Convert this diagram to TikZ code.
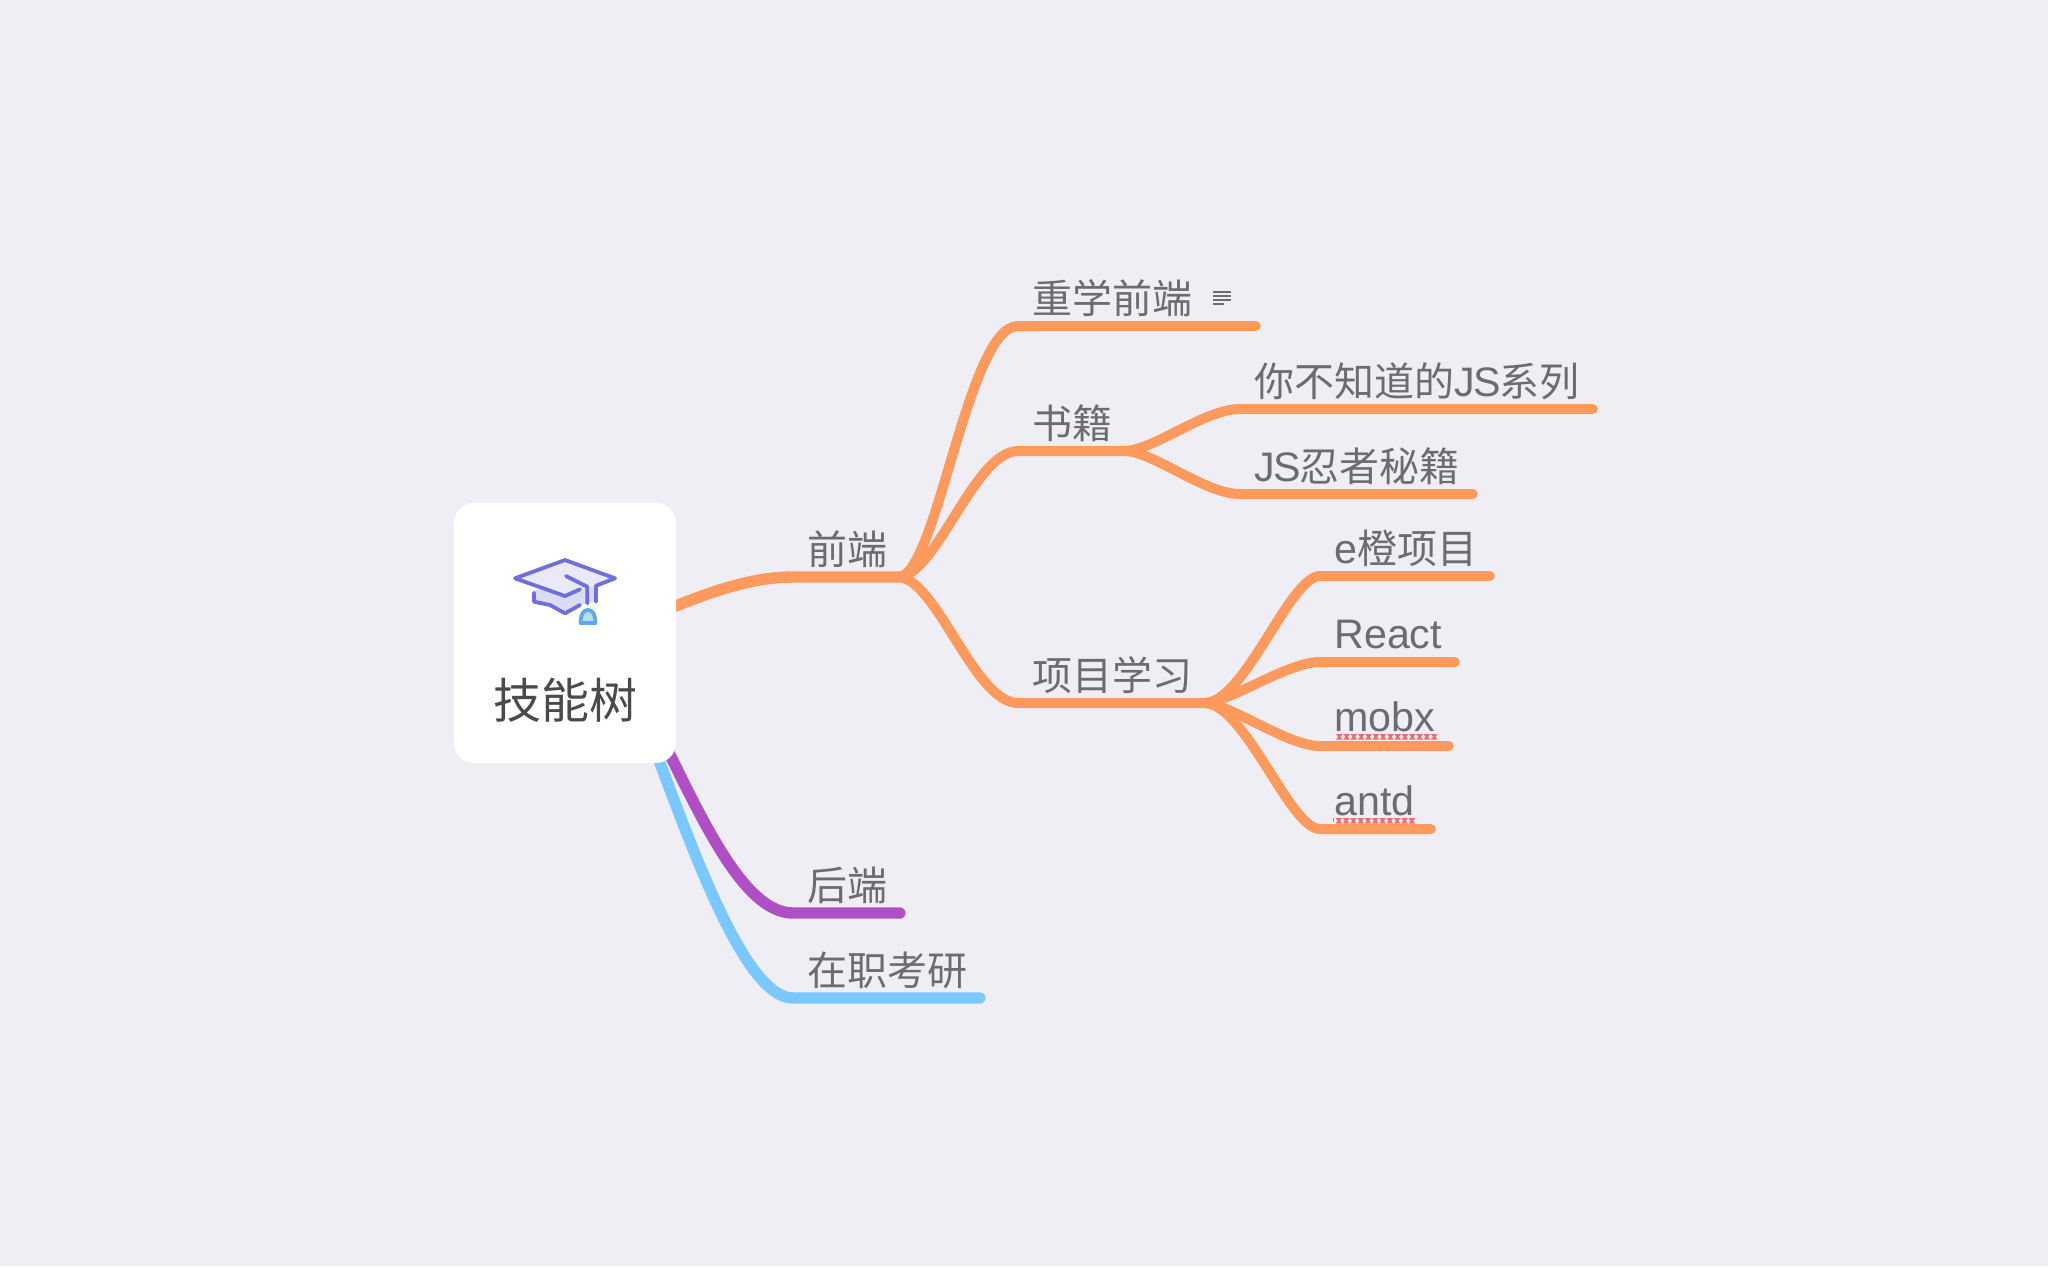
\documentclass[tikz,border=0pt]{standalone}
\usepackage{fontspec}
\setmainfont[Scale=1.03]{Liberation Sans}
\newfontfamily\cjk{Noto Sans CJK SC}
\usetikzlibrary{positioning, backgrounds}

\definecolor{paper}{HTML}{EEEEF4}
\definecolor{inktext}{HTML}{6C6C70}
\definecolor{roottext}{HTML}{4A4A4A}
\definecolor{orangeline}{HTML}{FF9A5E}
\definecolor{purpleline}{HTML}{AE4FC6}
\definecolor{blueline}{HTML}{7AC8FF}
\definecolor{hatline}{HTML}{6E6EDC}
\definecolor{tasselline}{HTML}{62A9E3}
\definecolor{tasselfill}{HTML}{BBDCF6}
\definecolor{spellred}{HTML}{F26B6B}

\tikzset{
  topic/.style={anchor=south west, text=inktext, inner xsep=7pt, inner ysep=6.25pt,
    text width=#1*0.5pt-14pt, text height=15pt, text depth=0pt, align=left,
    font=\fontsize{20}{24}\selectfont},
  branch/.style={draw=orangeline, line width=5pt, line cap=round, line join=round},
  mainbranch/.style={branch, line width=5.7pt},
  hatstroke/.style={draw=hatline, line width=1.9pt, line cap=round, line join=round},
}

\newcommand{\jsname}{J\kern-1pt S\kern-.5pt}

% red marks under a word
\newcommand{\spellmarks}[3]{
  \pgfmathsetmacro{\mxnext}{#1+7.3}
  \foreach \mx in {#1,\mxnext,...,#2}{
    \fill[spellred] (\mx,#3) -- ++(6.6,0) -- ++(-2,2.8) -- ++(2,2.8) -- ++(-6.6,0) -- ++(2,-2.8) -- cycle;
  }
}

\begin{document}
\begin{tikzpicture}[x=0.5pt, y=-0.5pt]
\useasboundingbox (0,0) rectangle (2048,1266);

\node[fill=white, rounded corners=10pt, minimum width=111pt, minimum height=130pt, inner sep=0pt] (root) at (565,633) {};
\node[text=roottext, font=\cjk\fontsize{24}{28}\selectfont, inner sep=0pt] (rootlabel) at (565,700) {技能树};

\node[topic=106] (qianduan) at (793,577) {\cjk 前端};
\node[topic=106] (houduan) at (793,913) {\cjk 后端};
\node[topic=186] (kaoyan) at (793,998) {\cjk 在职考研};

\node[topic=237] (chongxue) at (1018,326) {\cjk 重学前端};
\node[topic=107] (shuji) at (1018,451) {\cjk 书籍};
\node[topic=187] (xiangmu) at (1018,703) {\cjk 项目学习};

\node[topic=352] (buzhidao) at (1240,409) {{\cjk 你不知道的}\jsname{\cjk 系列}};
\node[topic=232] (renzhe) at (1240,494) {\jsname{\cjk 忍者秘籍}};

\node[topic=169] (echeng) at (1320,576) {e{\cjk 橙项目}};
\node[topic=134, inner ysep=6.75pt] (react) at (1320,662) {React};
\node[topic=128, inner ysep=7pt] (mobx) at (1320,746) {mobx};
\node[topic=110, inner ysep=6.75pt] (antd) at (1320,829) {antd};

\begin{scope}[on background layer]
\fill[paper] (0,0) rectangle (2048,1266);

\path[mainbranch] ([shift={(-36,-13)}]root.east) .. controls +(60,-24) and +(-48,0) .. (qianduan.south west) -- (qianduan.south east);
\path[mainbranch, draw=blueline] ([shift={(-26,-26)}]root.south east) .. controls +(38,100) and +(-50,0) .. (kaoyan.south west) -- (kaoyan.south east);
\path[mainbranch, draw=purpleline] ([shift={(-16,-28)}]root.south east) .. controls +(40,80) and +(-50,0) .. (houduan.south west) -- (houduan.south east);

\path[branch] (qianduan.south east) .. controls +(38,-7) and +(-50,0) .. (chongxue.south west) -- (chongxue.south east);
\path[branch] (qianduan.south east) .. controls +(38,-5) and +(-43,0) .. (shuji.south west) -- (shuji.south east);
\path[branch] (qianduan.south east) .. controls +(38,5) and +(-43,0) .. (xiangmu.south west) -- (xiangmu.south east);

\path[branch] (shuji.south east) .. controls +(30,-2) and +(-35,0) .. (buzhidao.south west) -- (buzhidao.south east);
\path[branch] (shuji.south east) .. controls +(30,2) and +(-35,0) .. (renzhe.south west) -- (renzhe.south east);

\path[branch] (xiangmu.south east) .. controls +(40,-3) and +(-30,0) .. (echeng.south west) -- (echeng.south east);
\path[branch] (xiangmu.south east) .. controls +(30,-4) and +(-32,0) .. (react.south west) -- (react.south east);
\path[branch] (xiangmu.south east) .. controls +(30,4) and +(-32,0) .. (mobx.south west) -- (mobx.south east);
\path[branch] (xiangmu.south east) .. controls +(40,3) and +(-30,0) .. (antd.south west) -- (antd.south east);
\end{scope}

% note icon
\draw[inktext, line width=.7pt] (1213,292) -- (1231,292) (1213,296) -- (1231,296) (1213,300) -- (1231,300) (1213,304) -- (1224,304);

\spellmarks{1336}{1432}{734}
\spellmarks{1335.5}{1415}{818}
\fill[spellred] (1333,818) rectangle (1334,822);

% graduation cap
\fill[hatline!25] (534,590) -- (534,601.7) -- (550,605) -- (565,613.3) -- (580,605) -- (596,601) -- (596,585) -- cycle;
\fill[hatline!15] (515,578.3) -- (565,560) -- (615,578.3) -- (565,596) -- cycle;
\draw[hatstroke] (580,589.3) -- (565,596) -- (515,578.3) -- (565,560) -- (615,578.3) -- (596,585.7) -- (596,601.7);
\draw[hatstroke] (566,576) -- (587.3,586.7) -- (587.3,603.3);
\draw[hatstroke] (534,592.7) -- (534,601.7) -- (550,605) -- (565,613.3) -- (580,605);
\draw[draw=tasselline, fill=tasselfill, line width=1.9pt, line join=round] (580.5,623) .. controls (581,613) and (584,610) .. (588,610) .. controls (592,610) and (595,613) .. (595.5,623) -- cycle;
\end{tikzpicture}
\end{document}
